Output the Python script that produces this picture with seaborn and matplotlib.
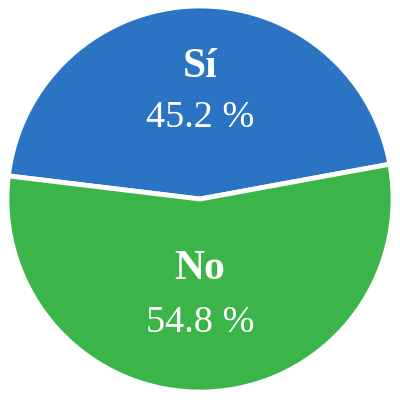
import matplotlib
matplotlib.use("Agg")
import matplotlib.pyplot as plt
import seaborn as sns

# datos
labels = ["Sí", "No"]
values = [45.2, 54.8]
colors = ["#2b73c3", "#3bb54a"]

sns.set_theme(style="white")
plt.rcParams['font.family'] = ['Liberation Serif', 'DejaVu Serif']

fig = plt.figure(figsize=(4, 4), dpi=100)
ax = fig.add_axes([0, 0, 1, 1])

wedges, _ = ax.pie(values, colors=colors, startangle=10.4, counterclock=True,
                   wedgeprops=dict(edgecolor="white", linewidth=3.5), center=(0, 0.005))

# etiquetas
label_y = [0.69, -0.355]
pct_y = [0.425, -0.635]
for lab, val, ly, py in zip(labels, values, label_y, pct_y):
    ax.text(0, ly, lab, ha="center", va="center", color="white", fontsize=30, fontweight="bold")
    ax.text(0, py, f"{val} %", ha="center", va="center", color="white", fontsize=27.5)

ax.set_xlim(-1.036, 1.036)
ax.set_ylim(-1.036, 1.036)
ax.set_aspect("equal")
ax.axis("off")

fig.savefig("out.png", dpi=100, facecolor="white")
